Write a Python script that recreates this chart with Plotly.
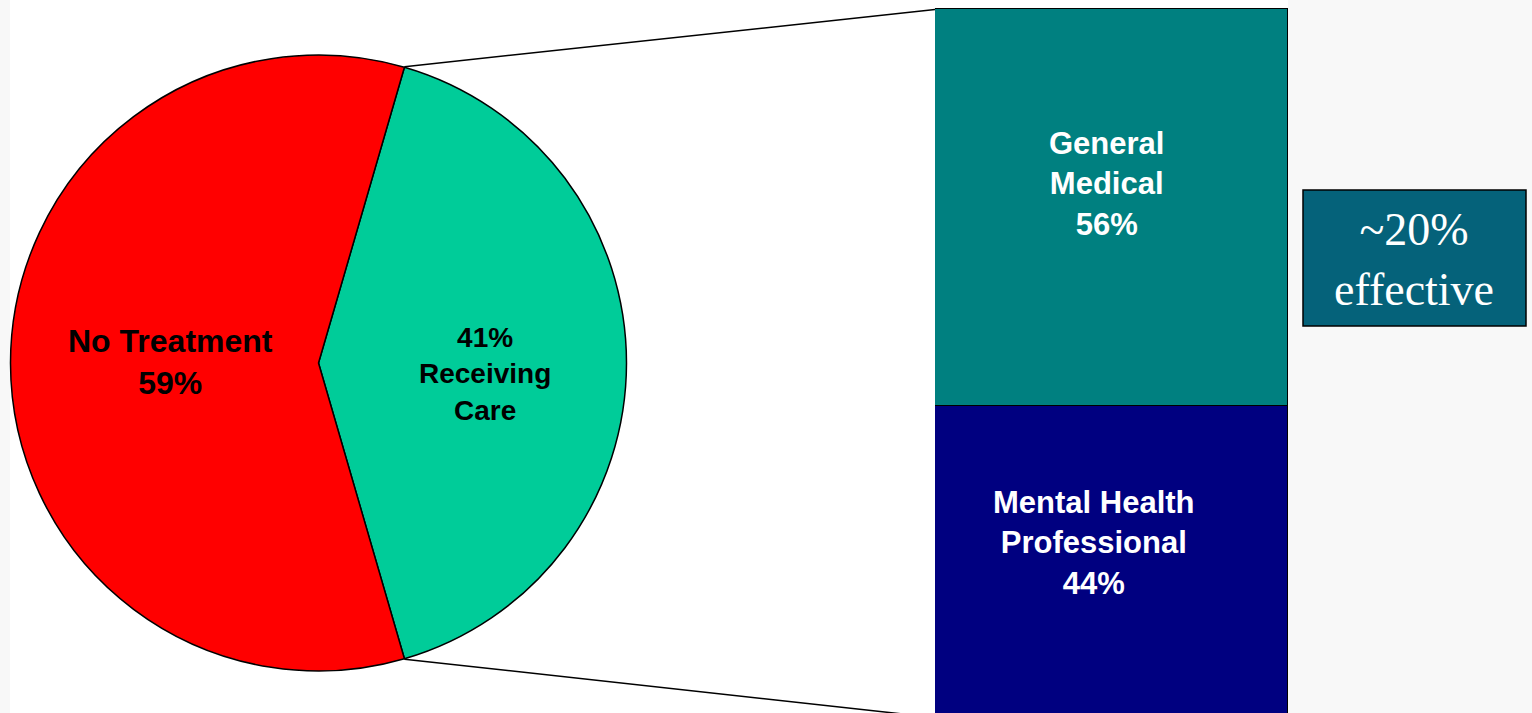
import math
import plotly.graph_objects as go

W, H = 1532, 713

# Who receives care
pie_labels = ["Receiving Care", "No Treatment"]
pie_values = [41, 59]
pie_colors = ["#00CC99", "#FF0000"]

# Where care is received (share of those receiving care)
bar_labels = ["Mental Health Professional", "General Medical"]
bar_text = ["Mental Health<br>Professional", "General<br>Medical"]
bar_values = [44, 56]
bar_colors = ["#000080", "#008080"]

callout_text = "~20%<br>effective"

# Layout geometry in pixels
pie_left, pie_right, pie_top, pie_bottom = 10, 627, 55, 671
bar_left, bar_right = 935, 1288
y_min, y_max = 0.64, 101.34   # bar axis range -> bar spans y=10..717 px


def px(x):
    return x / W


def py(y):
    return 1 - y / H


fig = go.Figure()

share = pie_values[0] / sum(pie_values)
rotation = 90 - 180 * share

fig.add_trace(go.Pie(
    labels=pie_labels,
    values=pie_values,
    sort=False,
    direction="clockwise",
    rotation=rotation,
    marker=dict(colors=pie_colors, line=dict(color="black", width=1.5)),
    textinfo="none",
    domain=dict(x=[px(pie_left), px(pie_right)], y=[py(pie_bottom), py(pie_top)]),
    showlegend=False,
))

# Stacked bar breaking down the care slice
base = 0
for lab, val, col, txt in zip(bar_labels, bar_values, bar_colors, bar_text):
    fig.add_trace(go.Bar(
        x=["Care"], y=[val], name=lab,
        marker=dict(color=col, line=dict(color="black", width=1.2)),
        showlegend=False,
    ))
    fig.add_annotation(
        x="Care", y=base + 0.56 * val, xref="x", yref="y",
        xanchor="center", yanchor="middle",
        text=f"<b>{txt}<br>{val}%</b>", showarrow=False,
        font=dict(family="Liberation Sans, Arial", size=31, color="white"),
        xshift=-18 if base == 0 else -5,
    )
    base += val

fig.update_layout(
    barmode="stack",
    bargap=0,
    width=W, height=H,
    margin=dict(l=0, r=0, t=0, b=0),
    paper_bgcolor="#f8f8f8",
    plot_bgcolor="rgba(0,0,0,0)",
    xaxis=dict(domain=[px(bar_left), px(bar_right)], range=[-0.5, 0.5],
               visible=False, fixedrange=True),
    yaxis=dict(domain=[0, 1], range=[y_min, y_max], visible=False, fixedrange=True),
)

# White slide area behind the charts
fig.add_shape(type="rect", xref="paper", yref="paper",
              x0=px(10), x1=px(1288), y0=0, y1=1,
              fillcolor="white", line=dict(width=0), layer="below")

# Pie slice labels
fig.add_annotation(
    x=px(170), y=py(362), xref="paper", yref="paper", showarrow=False,
    xanchor="center", yanchor="middle",
    text=f"<b>{pie_labels[1]}<br>{pie_values[1]}%</b>",
    font=dict(family="Liberation Sans, Arial", size=32, color="black"),
)
fig.add_annotation(
    x=px(485), y=py(374), xref="paper", yref="paper", showarrow=False,
    xanchor="center", yanchor="middle",
    text=f"<b>{pie_values[0]}%<br>{pie_labels[0].replace(' ', '<br>')}</b>",
    font=dict(family="Liberation Sans, Arial", size=28, color="black"),
)

# Connector lines from the care slice edges to the bar corners
cx = (pie_left + pie_right) / 2
cy = (pie_top + pie_bottom) / 2
r = (pie_right - pie_left) / 2
theta = math.radians(rotation)
top_pt = (cx + r * math.sin(theta), cy - r * math.cos(theta))
bot_pt = (cx + r * math.sin(theta), cy + r * math.cos(theta))
bar_top_px = H - H * (100 - y_min) / (y_max - y_min)
bar_bot_px = H + H * (y_min - 0) / (y_max - y_min)
for (x0, y0), y1 in ((top_pt, bar_top_px), (bot_pt, bar_bot_px)):
    fig.add_shape(type="line", xref="paper", yref="paper",
                  x0=px(x0), y0=py(y0), x1=px(bar_left), y1=py(y1),
                  line=dict(color="black", width=1.5))

# Effectiveness callout box
fig.add_shape(type="rect", xref="paper", yref="paper",
              x0=px(1303), x1=px(1526), y0=py(326), y1=py(190),
              fillcolor="#05627A", line=dict(color="black", width=1.5))
fig.add_annotation(
    x=px(1414), y=py(259), xref="paper", yref="paper", showarrow=False,
    xanchor="center", yanchor="middle",
    text=callout_text,
    font=dict(family="Liberation Serif, Times New Roman, serif", size=46, color="white"),
)

fig.write_html("out.html")
